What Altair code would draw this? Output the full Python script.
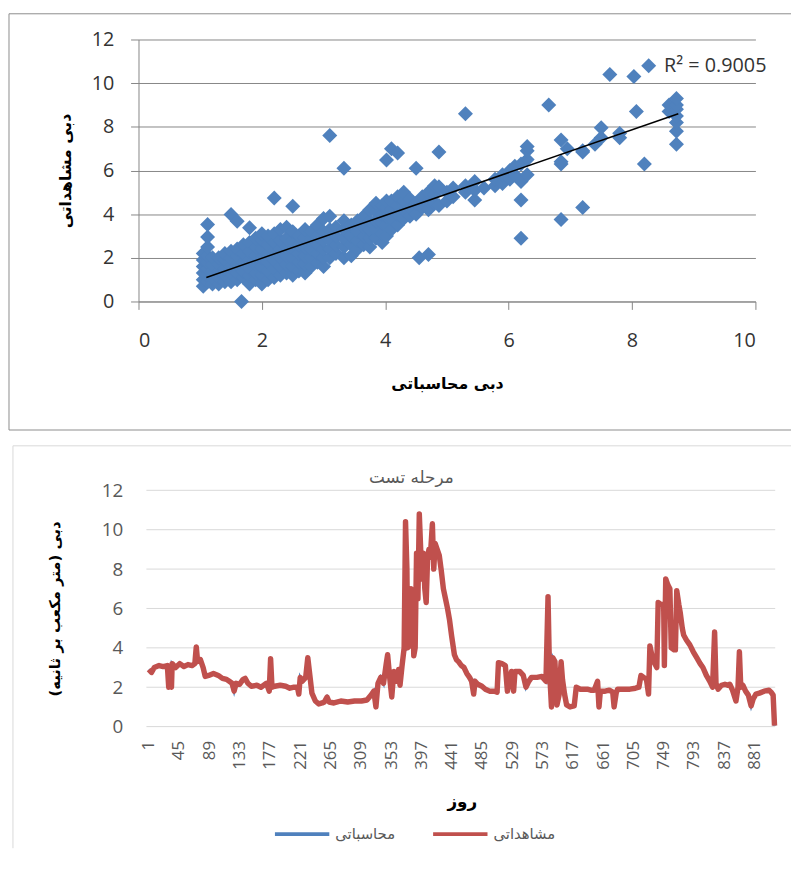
import altair as alt
import pandas as pd

# ---------------- top panel: observed vs computed scatter ----------------
sc_x = [
    1.05, 1.05, 1.05, 1.05, 1.05, 1.05,
    1.12, 1.12, 1.12, 1.12, 1.12, 1.12, 1.12, 1.12,
    1.2, 1.2, 1.2, 1.2, 1.2,
    1.3, 1.3, 1.3, 1.3, 1.3,
    1.4, 1.4, 1.4, 1.4, 1.4,
    1.5, 1.5, 1.5, 1.5, 1.5, 1.5,
    1.6, 1.6, 1.6, 1.6, 1.6, 1.6,
    1.67,
    1.7, 1.7, 1.7, 1.7, 1.7,
    1.8, 1.8, 1.8, 1.8, 1.8, 1.8, 1.8,
    1.9, 1.9, 1.9, 1.9, 1.9, 1.9,
    2.0, 2.0, 2.0, 2.0, 2.0, 2.0, 2.0,
    2.1, 2.1, 2.1, 2.1, 2.1, 2.1,
    2.2, 2.2, 2.2, 2.2, 2.2, 2.2, 2.2,
    2.3, 2.3, 2.3, 2.3, 2.3, 2.3,
    2.4, 2.4, 2.4, 2.4, 2.4, 2.4,
    2.5, 2.5, 2.5, 2.5, 2.5, 2.5, 2.5,
    2.6, 2.6, 2.6, 2.6, 2.6,
    2.7, 2.7, 2.7, 2.7, 2.7, 2.7,
    2.8, 2.8, 2.8, 2.8, 2.8,
    2.9, 2.9, 2.9, 2.9, 2.9,
    3.0, 3.0, 3.0, 3.0, 3.0, 3.0,
    3.1, 3.1, 3.1, 3.1, 3.1, 3.1,
    3.2, 3.2, 3.2, 3.2,
    3.33, 3.33, 3.33, 3.33, 3.33, 3.33,
    3.45, 3.45, 3.45, 3.45,
    3.55, 3.55, 3.55, 3.55,
    3.65, 3.65, 3.65, 3.65,
    3.75, 3.75, 3.75, 3.75, 3.75,
    3.85, 3.85, 3.85, 3.85, 3.85,
    3.95, 3.95, 3.95, 3.95, 3.95,
    4.02, 4.02, 4.02, 4.02, 4.02, 4.02,
    4.1, 4.1, 4.1, 4.1, 4.1,
    4.2, 4.2, 4.2, 4.2, 4.2,
    4.3, 4.3, 4.3, 4.3,
    4.4, 4.4, 4.4,
    4.5, 4.5, 4.5,
    4.55,
    4.6, 4.6,
    4.7, 4.7, 4.7, 4.7,
    4.8, 4.8, 4.8,
    4.87, 4.87, 4.87,
    5.0, 5.0,
    5.1, 5.1,
    5.3, 5.3, 5.3,
    5.45, 5.45, 5.45,
    5.6,
    5.78, 5.78,
    5.9, 5.9,
    6.02, 6.02,
    6.1, 6.1,
    6.2, 6.2, 6.2, 6.2,
    6.3, 6.3, 6.3, 6.3,
    6.65,
    6.85, 6.85, 6.85, 6.85,
    6.95,
    7.2, 7.2, 7.2,
    7.4,
    7.5, 7.5,
    7.64,
    7.8, 7.8,
    8.03,
    8.07,
    8.2,
    8.27,
    8.6, 8.6,
    8.72, 8.72, 8.72, 8.72, 8.72, 8.72, 8.72,
]
sc_y = [
    0.7, 1.0, 1.3, 1.6, 1.9, 2.2,
    0.9, 1.2, 1.5, 1.8, 2.1, 2.5, 2.95, 3.53,
    0.8, 1.1, 1.4, 1.7, 2.0,
    0.8, 1.1, 1.4, 1.7, 2.0,
    0.9, 1.2, 1.5, 1.9, 2.2,
    0.9, 1.3, 1.6, 2.0, 2.3, 3.98,
    1.0, 1.3, 1.7, 2.1, 2.4, 3.68,
    0.0,
    1.1, 1.4, 1.8, 2.2, 2.6,
    0.8, 1.2, 1.5, 1.9, 2.3, 2.7, 3.38,
    1.0, 1.3, 1.7, 2.1, 2.5, 2.9,
    0.8, 1.2, 1.6, 2.0, 2.4, 2.8, 3.1,
    1.0, 1.4, 1.8, 2.2, 2.6, 3.0,
    1.1, 1.5, 1.9, 2.3, 2.7, 3.1, 4.74,
    1.2, 1.6, 2.0, 2.4, 2.8, 3.3,
    1.3, 1.7, 2.1, 2.5, 2.9, 3.4,
    1.2, 1.6, 2.0, 2.4, 2.8, 3.2, 4.36,
    1.4, 1.8, 2.2, 2.6, 3.0,
    1.3, 1.7, 2.1, 2.5, 2.9, 3.3,
    1.6, 2.0, 2.4, 2.8, 3.2,
    1.8, 2.2, 2.6, 3.0, 3.5,
    1.6, 2.0, 2.4, 2.8, 3.2, 3.8,
    2.0, 2.4, 2.8, 3.3, 3.9, 7.6,
    2.2, 2.6, 3.0, 3.4,
    2.0, 2.5, 2.9, 3.3, 3.7, 6.1,
    2.1, 2.6, 3.0, 3.5,
    2.4, 2.8, 3.2, 3.7,
    2.6, 3.0, 3.4, 3.9,
    2.5, 2.9, 3.3, 3.7, 4.2,
    2.9, 3.3, 3.7, 4.1, 4.5,
    2.7, 3.1, 3.6, 4.0, 4.4,
    3.0, 3.5, 3.9, 4.3, 4.6, 6.48,
    3.3, 3.8, 4.2, 4.6, 7.0,
    3.5, 4.0, 4.4, 4.8, 6.8,
    3.8, 4.2, 4.6, 5.0,
    3.9, 4.3, 4.7,
    4.0, 4.5, 6.1,
    2.0,
    4.3, 4.8,
    2.15, 4.2, 4.6, 5.0,
    4.5, 4.9, 5.3,
    4.4, 5.25, 6.85,
    4.6, 5.0,
    4.8, 5.2,
    5.0, 5.3, 8.6,
    4.65, 5.1, 5.5,
    5.2,
    5.3, 5.6,
    5.4, 5.8,
    5.6, 6.0,
    5.8, 6.2,
    2.9, 4.65, 5.5, 6.3,
    5.8, 6.5, 6.9, 7.1,
    9.0,
    3.75, 6.3, 6.4, 7.4,
    7.0,
    4.3, 6.85, 6.9,
    7.2,
    7.5, 7.96,
    10.4,
    7.5, 7.7,
    10.3,
    8.7,
    6.3,
    10.8,
    8.7, 9.0,
    7.2, 7.8, 8.2, 8.5, 8.8, 9.0, 9.3,
]
trend_x = [1.1, 8.75]
trend_y = [1.1, 8.6]
r2_text = ["R² = 0.9005"]
r2_x = [8.52]
r2_y = [10.8]
top_x_ticks = [0, 2, 4, 6, 8, 10]
top_y_ticks = [0, 2, 4, 6, 8, 10, 12]
top_x_title = "دبی محاسباتی"
top_y_title = "دبی مشاهداتی"

# ---------------- bottom panel: daily discharge, test stage ----------------
days = [
    1, 5, 9, 16, 22, 28, 30, 32, 34, 35, 40, 46, 52, 58, 64, 68, 70, 72, 76, 80,
    83, 88, 95, 102, 108, 114, 118, 122, 125, 128, 133, 138, 141, 145, 150, 158,
    164, 168, 172, 176, 178, 180, 184, 192, 200, 206, 212, 217, 219, 221, 224,
    229, 232, 235, 238, 243, 248, 253, 256, 260, 263, 270, 280, 290, 300, 310,
    318, 324, 328, 331, 334, 338, 342, 346, 348, 351, 354, 357, 361, 364, 366,
    369, 372, 374, 376, 377, 380, 382, 384, 386, 388, 390, 392, 394, 396, 398,
    400, 402, 404, 406, 408, 410, 413, 415, 417, 420, 423, 426, 429, 432, 435,
    438, 441, 445, 448, 451, 455, 459, 463, 467, 470, 473, 475, 479, 485, 490,
    496, 503, 507, 509, 514, 519, 522, 524, 528, 531, 533, 540, 545, 549, 553,
    557, 565, 572, 578, 581, 583, 586, 588, 591, 594, 597, 600, 602, 605, 608,
    613, 619, 622, 628, 634, 638, 643, 648, 653, 655, 657, 664, 670, 675, 677,
    680, 682, 690, 700, 708, 713, 716, 720, 724, 727, 729, 732, 736, 739, 741,
    745, 749, 750, 752, 755, 758, 760, 764, 766, 768, 771, 773, 776, 778, 782,
    787, 792, 797, 802, 806, 811, 816, 820, 823, 825, 828, 833, 838, 842, 845,
    849, 854, 857, 859, 861, 864, 868, 872, 876, 879, 883, 888, 895, 902, 905,
    908, 910,
]
observed = [
    2.9, 2.75, 3.0, 3.1, 3.05, 3.1, 2.0, 2.5, 2.0, 3.2, 3.0, 3.2, 3.05, 3.15, 3.1, 3.2, 4.05, 3.3, 3.4, 3.0,
    2.55, 2.6, 2.7, 2.6, 2.45, 2.4, 2.3, 2.2, 1.8, 2.2, 2.15, 2.4, 2.45, 2.2, 2.05, 2.1,
    2.0, 2.1, 2.2, 1.8, 3.45, 2.0, 2.05, 2.1, 2.05, 1.95, 2.0, 2.0, 1.65, 2.5, 2.3,
    2.5, 3.5, 2.6, 1.7, 1.3, 1.15, 1.2, 1.25, 1.5, 1.25, 1.2, 1.3, 1.25, 1.3, 1.3,
    1.35, 1.6, 1.8, 1.0, 2.2, 2.5, 2.2, 3.2, 3.65, 2.5, 1.5, 2.8, 2.3, 2.9, 2.1,
    3.1, 4.0, 10.4, 8.0, 4.0, 4.1, 7.0, 6.8, 3.6, 4.0, 8.8, 6.5, 10.8, 9.0, 7.5,
    8.8, 7.0, 6.3, 8.5, 9.0, 8.6, 10.3, 8.0, 9.3, 9.0, 8.7, 7.9, 7.0, 6.5, 6.0,
    5.4, 4.6, 3.65, 3.4, 3.3, 3.1, 3.0, 2.7, 2.5, 2.3, 1.65, 2.3, 2.15, 2.05, 1.9,
    1.8, 1.8, 1.75, 3.25, 3.2, 3.1, 1.8, 2.2, 2.8, 1.8, 2.8, 2.8, 2.6, 2.0, 2.3,
    2.5, 2.5, 2.55, 2.3, 6.6, 3.0, 1.0, 3.5, 3.3, 1.1, 1.6, 3.3, 2.4, 1.65, 1.1,
    1.0, 1.05, 2.0, 1.9, 1.9, 1.9, 1.85, 1.85, 2.3, 1.0, 1.8, 1.8, 1.85, 1.75, 1.0,
    1.7, 1.9, 1.9, 1.9, 1.95, 2.0, 2.6, 2.5, 2.4, 1.65, 4.1, 3.6, 3.2, 3.0, 6.3,
    6.2, 6.2, 3.1, 7.5, 7.2, 7.0, 4.0, 3.9, 3.9, 6.9, 6.2, 5.8, 5.0, 4.65, 4.4,
    4.15, 3.8, 3.5, 3.2, 3.0, 2.6, 2.3, 2.0, 4.8, 2.2, 1.9, 2.1, 2.15, 2.1, 2.15,
    1.85, 1.3, 2.0, 3.8, 2.0, 2.1, 1.8, 1.6, 1.05, 1.4, 1.65, 1.7, 1.8, 1.85, 1.75,
    1.6, 0.05,
]
# computed series lies completely underneath the observed one in the picture
computed = list(observed)
bot_x_ticks = [1, 45, 89, 133, 177, 221, 265, 309, 353, 397, 441, 485, 529,
               573, 617, 661, 705, 749, 793, 837, 881]
bot_y_ticks = [0, 2, 4, 6, 8, 10, 12]
series_names = ["محاسباتی", "مشاهداتی"]
series_colors = ["#4F81BD", "#C0504D"]
bot_title = ["مرحله تست"]
bot_x_title = "روز"
bot_y_title = "دبی (متر مکعب بر ثانیه)"

# ---------------- styling ----------------
NUM = "Open Sans"
AR = "DejaVu Sans"
W1, H1 = 624, 265
W2, H2 = 644, 239
one = pd.DataFrame({"k": [0]})


def hrule(color, x1, x2, y):
    return alt.Chart(one).mark_rule(color=color, strokeWidth=1).encode(
        x=alt.value(x1), x2=alt.value(x2), y=alt.value(y))


def vrule(color, x, y1, y2):
    return alt.Chart(one).mark_rule(color=color, strokeWidth=1).encode(
        x=alt.value(x), y=alt.value(y1), y2=alt.value(y2))


# ---- top chart ----
sx1 = alt.Scale(domain=[0, 10], nice=False, zero=False)
sy1 = alt.Scale(domain=[0, 12], nice=False)
sc_df = pd.DataFrame({"x": sc_x, "y": sc_y})
tr_df = pd.DataFrame({"x": trend_x, "y": trend_y})
r2_df = pd.DataFrame({"x": r2_x, "y": r2_y, "t": r2_text})

ax_x1 = alt.Axis(values=top_x_ticks, title=top_x_title, grid=False,
                 domainColor="#868686", tickColor="#868686", tickSize=8,
                 labelFont=NUM, labelFontSize=20, labelColor="#333333",
                 labelPadding=22, titleFont=AR, titleFontSize=16,
                 titleFontWeight="bold", titleColor="#000000",
                 titleX=W1 / 2, titleY=83, titleBaseline="middle",
                 titleAlign="center")
ax_y1 = alt.Axis(values=top_y_ticks, title=top_y_title, grid=True,
                 gridColor="#868686", domainColor="#868686",
                 tickColor="#868686", tickSize=8, labelFont=NUM,
                 labelFontSize=20, labelColor="#333333", labelPadding=17,
                 titleFont=AR, titleFontSize=16, titleFontWeight="bold",
                 titleColor="#000000", titleX=-74, titleY=H1 / 2,
                 titleBaseline="middle", titleAlign="center", titleAngle=270)

X1 = alt.X("x:Q", scale=sx1, axis=ax_x1)
Y1 = alt.Y("y:Q", scale=sy1, axis=ax_y1)

points = alt.Chart(sc_df).mark_point(
    shape="diamond", filled=True, size=230, color="#4F81BD", opacity=1,
    strokeWidth=0).encode(x=X1, y=Y1)
trend = alt.Chart(tr_df).mark_line(color="#000000", strokeWidth=1.5).encode(
    x=X1, y=Y1)
r2 = alt.Chart(r2_df).mark_text(
    align="left", baseline="middle", font=NUM, fontSize=20,
    color="#333333").encode(x=X1, y=Y1, text="t:N")

top = alt.layer(
    hrule("#8c8c8c", -131, 660, -26),
    vrule("#8c8c8c", -131, -26, 395),
    hrule("#8c8c8c", -131, 660, 395),
    points, trend, r2,
).properties(width=W1, height=H1)

# ---- bottom chart ----
sx2 = alt.Scale(domain=[-13.9, 911], nice=False, zero=False)
sy2 = alt.Scale(domain=[0, 12], nice=False)
blue_df = pd.DataFrame({"day": days, "value": computed,
                        "series": [series_names[0]] * len(days)})
red_df = pd.DataFrame({"day": days, "value": observed,
                       "series": [series_names[1]] * len(days)})
grid_df = pd.DataFrame({"value": bot_y_ticks})
title_df = pd.DataFrame({"t": bot_title})

ax_x2 = alt.Axis(values=bot_x_ticks, labelAngle=-90, grid=False, domain=False,
                 ticks=False, labelPadding=14, labelFont=NUM, labelFontSize=17,
                 labelColor="#595959", labelFlush=False, labelOverlap=False,
                 title=bot_x_title, titleFont=AR, titleFontSize=17,
                 titleFontWeight="bold", titleColor="#000000",
                 titleX=W2 / 2 + 5, titleY=76, titleBaseline="middle",
                 titleAlign="center")
ax_y2 = alt.Axis(values=bot_y_ticks, grid=False, domain=False, ticks=False,
                 labelPadding=16, labelFont=NUM, labelFontSize=19,
                 labelColor="#595959", title=bot_y_title, titleFont=AR,
                 titleFontSize=15, titleFontWeight="bold",
                 titleColor="#000000", titleX=-85, titleY=H2 / 2,
                 titleBaseline="middle", titleAlign="center", titleAngle=270)

X2 = alt.X("day:Q", scale=sx2, axis=ax_x2)
Y2 = alt.Y("value:Q", scale=sy2, axis=ax_y2)

color = alt.Color(
    "series:N", sort=series_names,
    scale=alt.Scale(domain=series_names, range=series_colors),
    legend=alt.Legend(title=None, orient="none", legendX=136, legendY=318,
                      direction="horizontal", symbolType="stroke",
                      symbolSize=3025, symbolStrokeWidth=4,
                      labelFont=AR, labelFontSize=15, labelColor="#595959",
                      columnPadding=30, labelOffset=4))

grid2 = alt.Chart(grid_df).mark_rule(color="#d9d9d9", strokeWidth=1).encode(
    y=Y2, x=alt.value(8), x2=alt.value(W2))
blue = alt.Chart(blue_df).mark_line(strokeWidth=3).encode(
    x=X2, y=Y2, color=color)
red = alt.Chart(red_df).mark_line(strokeWidth=5.5, strokeJoin="round").encode(
    x=X2, y=Y2, color=color)
title_txt = alt.Chart(title_df).mark_text(
    font=AR, fontSize=17, color="#595959", align="center",
    baseline="middle").encode(
    text="t:N", x=alt.value(276), y=alt.value(-12))

bottom = alt.layer(
    hrule("#d9d9d9", -127, 660, -45),
    vrule("#d9d9d9", -127, -45, 362),
    grid2, blue, red, title_txt,
).properties(width=W2, height=H2)

chart = alt.vconcat(top, bottom, spacing=14).resolve_legend(
    color="independent"
).properties(
    padding=0, background="white"
).configure_view(stroke=None)

chart.save("out.html", embed_options={"renderer": "svg", "actions": False})
